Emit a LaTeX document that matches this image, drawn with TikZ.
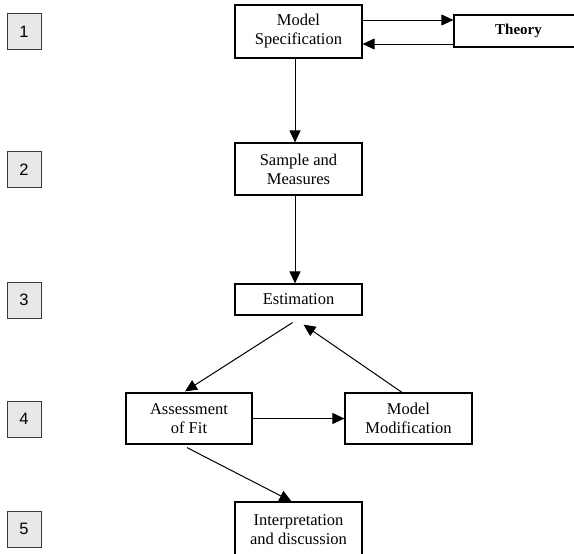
\documentclass[tikz,border=0pt]{standalone}
\usepackage{fontspec}
\setmainfont{Liberation Serif}
\newfontfamily\numfont{Liberation Sans}
\usetikzlibrary{arrows.meta}
\definecolor{stagefill}{HTML}{E8E8E8}
\definecolor{stageline}{HTML}{3A3A3A}
\tikzset{
  stagebox/.style={draw=stageline, fill=stagefill, line width=0.9pt,
    minimum width=34pt, minimum height=36pt, inner sep=0pt,
    font=\numfont\fontsize{16.5}{19}\selectfont},
  procbox/.style={draw, line width=1.2pt, align=center, inner sep=0pt,
    minimum width=127pt, font=\fontsize{16.5}{19}\selectfont},
  arr/.style={line width=1pt, -{Triangle[length=12pt,width=11pt]}}
}
\begin{document}
\begin{tikzpicture}[x=1pt,y=-1pt]
\useasboundingbox (0,0) rectangle (574,554);
\begin{scope}
\clip (0,0) rectangle (574,554);
% stage numbers
\node[stagebox] (n1) at (24,31.5) {1};
\node[stagebox] (n2) at (24,169.5) {2};
\node[stagebox] (n3) at (24,300) {3};
\node[stagebox] (n4) at (24,419) {4};
\node[stagebox] (n5) at (24,529) {5};
% process steps
\node[procbox, minimum height=53pt] (spec) at (298.5,31.5) {Model\\Specification};
\node[procbox, minimum width=129pt, minimum height=32pt, font=\bfseries\fontsize{15}{18}\selectfont] (theory) at (518.5,31) {Theory};
\node[procbox, minimum height=52pt] (sample) at (298.5,169) {Sample and\\Measures};
\node[procbox, minimum height=31pt] (est) at (298.5,299.5) {Estimation};
\node[procbox, minimum width=126pt, minimum height=51pt] (assess) at (189,418.5) {Assessment\\of Fit};
\node[procbox, minimum height=51pt] (modif) at (408.5,418.5) {Model\\Modification};
\node[procbox, minimum height=56pt] (interp) at (298.5,530) {Interpretation\\and discussion};
% connectors
\draw[arr] ([yshift=11.5pt]spec.east) -- ([yshift=11.5pt]spec.east -| theory.west);
\draw[arr] ([yshift=-13pt]theory.west) -- ([yshift=-13pt]theory.west -| spec.east);
\draw[arr] ([xshift=-3.5pt]spec.south) -- ([xshift=-3.5pt]sample.north);
\draw[arr] ([xshift=-3.5pt]sample.south) -- ([xshift=-3.5pt]est.north);
\draw[arr] ([shift={(-6pt,-7pt)}]est.south) -- ([shift={(-4pt,1pt)}]assess.north);
\draw[arr] ([xshift=-6.5pt]modif.north) -- ([shift={(5pt,-9pt)}]est.south);
\draw[arr] (assess.east) -- (modif.west);
\draw[arr] ([shift={(-2pt,-3pt)}]assess.south) -- ([xshift=-7pt]interp.north);
\end{scope}
\end{tikzpicture}
\end{document}
